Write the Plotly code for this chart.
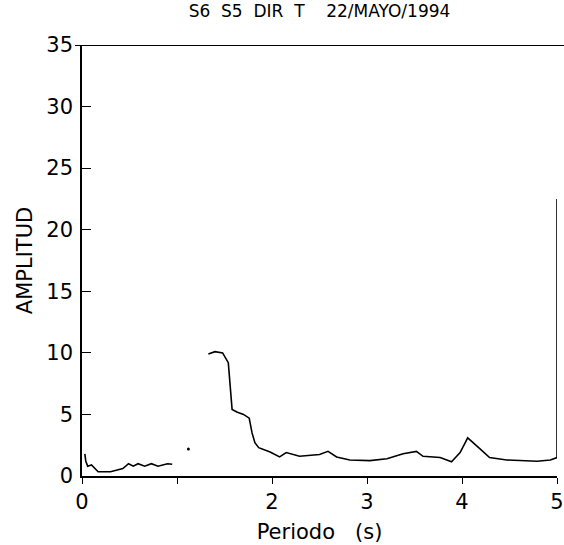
import plotly.graph_objects as go

# Spectral ratio curve (period in s, amplitude); None marks gaps in the trace
periodo = [0.03, 0.04, 0.06, 0.10, 0.17, 0.30, 0.43, 0.49, 0.54, 0.59, 0.66, 0.73, 0.80, 0.90, 0.95,
           None,
           1.33, 1.40, 1.48, 1.54, 1.58, 1.63, 1.70, 1.76, 1.79, 1.82, 1.86, 1.98, 2.08, 2.15, 2.29,
           2.43, 2.50, 2.59, 2.68, 2.82, 3.03, 3.21, 3.38, 3.52, 3.59, 3.77, 3.89, 3.98,
           4.06, 4.19, 4.29, 4.47, 4.64, 4.79, 4.93, 5.00, 5.00]
amplitud = [1.8, 1.2, 0.8, 0.9, 0.35, 0.35, 0.6, 1.0, 0.8, 1.0, 0.8, 1.0, 0.8, 1.0, 0.95,
            None,
            9.9, 10.1, 10.0, 9.2, 5.4, 5.2, 5.0, 4.7, 3.5, 2.7, 2.3, 1.95, 1.55, 1.9, 1.6,
            1.7, 1.75, 2.0, 1.55, 1.3, 1.25, 1.4, 1.8, 2.0, 1.6, 1.5, 1.15, 1.9,
            3.1, 2.2, 1.5, 1.3, 1.25, 1.2, 1.3, 1.5, 22.5]

# isolated point between the two pieces of the curve
punto_x = [1.12]
punto_y = [2.2]

x_ticks = [0, 1, 2, 3, 4, 5]
x_tick_text = ["0", "", "2", "3", "4", "5"]
y_ticks = [0, 5, 10, 15, 20, 25, 30, 35]

titulo = "S6  S5  DIR  T    22/MAYO/1994"

fig = go.Figure()
fig.add_trace(go.Scatter(x=periodo, y=amplitud, mode="lines",
                         line=dict(color="black", width=1.6), connectgaps=False,
                         showlegend=False, hoverinfo="skip"))
fig.add_trace(go.Scatter(x=punto_x, y=punto_y, mode="markers",
                         marker=dict(color="black", size=3), showlegend=False))

font = "DejaVu Sans, sans-serif"
fig.update_layout(
    width=564, height=545,
    margin=dict(l=82, r=7, t=45, b=69),
    paper_bgcolor="white", plot_bgcolor="white",
    font=dict(family=font, color="black", size=20),
    title=dict(text=titulo, x=(82 + 557) / 2 / 564, xanchor="center",
               y=1 - 11 / 545, yanchor="middle", font=dict(size=17)),
    xaxis=dict(range=[0, 5.0], tickvals=x_ticks, ticktext=x_tick_text,
               showline=True, linecolor="black", linewidth=1.6,
               ticks="outside", ticklen=6, tickwidth=1.3, tickcolor="black",
               ticklabelstandoff=0, automargin=False,
               showgrid=False, zeroline=False,
               title=dict(text="Periodo   (s)", standoff=11, font=dict(size=21)),
               tickfont=dict(size=21)),
    yaxis=dict(range=[0, 35], tickvals=y_ticks,
               showline=True, linecolor="black", linewidth=1.6,
               ticks="inside", ticklen=9, tickwidth=1.3, tickcolor="black",
               ticklabelstandoff=3, automargin=False,
               showgrid=False, zeroline=False,
               title=dict(text="AMPLITUD", standoff=8, font=dict(size=21)),
               tickfont=dict(size=21)),
    shapes=[dict(type="line", xref="paper", yref="y", x0=-7 / 475, x1=1 + 7 / 475,
                 y0=35, y1=35, line=dict(color="black", width=1.8))],
)

fig.write_html("out.html")
